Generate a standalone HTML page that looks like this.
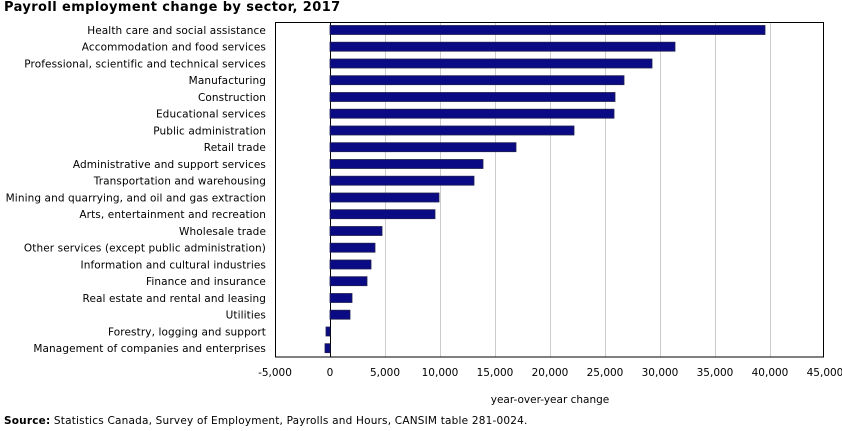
<!DOCTYPE html>
<html><head><meta charset="utf-8"><style>
html,body{margin:0;padding:0;background:#fff;}
svg{display:block;font-family:"DejaVu Sans","Liberation Sans",sans-serif;}
</style></head><body>
<svg width="842" height="431" viewBox="0 0 842 431" xmlns="http://www.w3.org/2000/svg">
<text x="4" y="11" font-size="13" font-weight="bold" letter-spacing="0.4" fill="#000">Payroll employment change by sector, 2017</text>
<g stroke="#ccc" stroke-width="1">
<line x1="385.5" y1="22" x2="385.5" y2="357"/>
<line x1="440.5" y1="22" x2="440.5" y2="357"/>
<line x1="495.5" y1="22" x2="495.5" y2="357"/>
<line x1="550.5" y1="22" x2="550.5" y2="357"/>
<line x1="605.5" y1="22" x2="605.5" y2="357"/>
<line x1="660.5" y1="22" x2="660.5" y2="357"/>
<line x1="715.5" y1="22" x2="715.5" y2="357"/>
<line x1="770.5" y1="22" x2="770.5" y2="357"/>
</g>
<rect x="275.5" y="22.5" width="548" height="334.5" fill="none" stroke="#000" stroke-width="1"/>
<line x1="330.5" y1="22" x2="330.5" y2="357" stroke="#000"/>
<g fill="#0a0a85" stroke="#202050" stroke-width="0.8">
<rect x="330" y="25.5" width="435" height="9"/>
<rect x="330" y="42.2" width="345" height="9"/>
<rect x="330" y="59" width="322" height="9"/>
<rect x="330" y="75.7" width="294" height="9"/>
<rect x="330" y="92.5" width="285" height="9"/>
<rect x="330" y="109.2" width="284" height="9"/>
<rect x="330" y="126" width="244" height="9"/>
<rect x="330" y="142.7" width="186" height="9"/>
<rect x="330" y="159.5" width="153" height="9"/>
<rect x="330" y="176.2" width="144" height="9"/>
<rect x="330" y="193" width="109" height="9"/>
<rect x="330" y="209.7" width="105" height="9"/>
<rect x="330" y="226.5" width="52" height="9"/>
<rect x="330" y="243.2" width="45" height="9"/>
<rect x="330" y="260" width="41" height="9"/>
<rect x="330" y="276.7" width="37" height="9"/>
<rect x="330" y="293.5" width="22" height="9"/>
<rect x="330" y="310.2" width="20" height="9"/>
<rect x="326" y="327" width="4" height="9"/>
<rect x="325" y="343.7" width="5" height="9"/>
</g>
<g font-size="10.5" fill="#000" text-anchor="end" letter-spacing="0.1">
<text x="266" y="34">Health care and social assistance</text>
<text x="266" y="50.7">Accommodation and food services</text>
<text x="266" y="67.5">Professional, scientific and technical services</text>
<text x="266" y="84.2">Manufacturing</text>
<text x="266" y="101">Construction</text>
<text x="266" y="117.7">Educational services</text>
<text x="266" y="134.5">Public administration</text>
<text x="266" y="151.2">Retail trade</text>
<text x="266" y="168">Administrative and support services</text>
<text x="266" y="184.7">Transportation and warehousing</text>
<text x="266" y="201.5">Mining and quarrying, and oil and gas extraction</text>
<text x="266" y="218.2">Arts, entertainment and recreation</text>
<text x="266" y="235">Wholesale trade</text>
<text x="266" y="251.7">Other services (except public administration)</text>
<text x="266" y="268.5">Information and cultural industries</text>
<text x="266" y="285.2">Finance and insurance</text>
<text x="266" y="302">Real estate and rental and leasing</text>
<text x="266" y="318.7">Utilities</text>
<text x="266" y="335.5">Forestry, logging and support</text>
<text x="266" y="352.2">Management of companies and enterprises</text>
</g>
<g font-size="10.5" fill="#000" text-anchor="middle">
<text x="275" y="376">-5,000</text>
<text x="330" y="376">0</text>
<text x="385" y="376">5,000</text>
<text x="440" y="376">10,000</text>
<text x="495" y="376">15,000</text>
<text x="550" y="376">20,000</text>
<text x="605" y="376">25,000</text>
<text x="660" y="376">30,000</text>
<text x="715" y="376">35,000</text>
<text x="770" y="376">40,000</text>
<text x="825" y="376">45,000</text>
<text x="550" y="403">year-over-year change</text>
</g>
<text x="4" y="424" font-size="10.5" letter-spacing="0.2" fill="#000"><tspan font-weight="bold">Source:</tspan> Statistics Canada, Survey of Employment, Payrolls and Hours, CANSIM table 281-0024.</text>
</svg>
</body></html>
